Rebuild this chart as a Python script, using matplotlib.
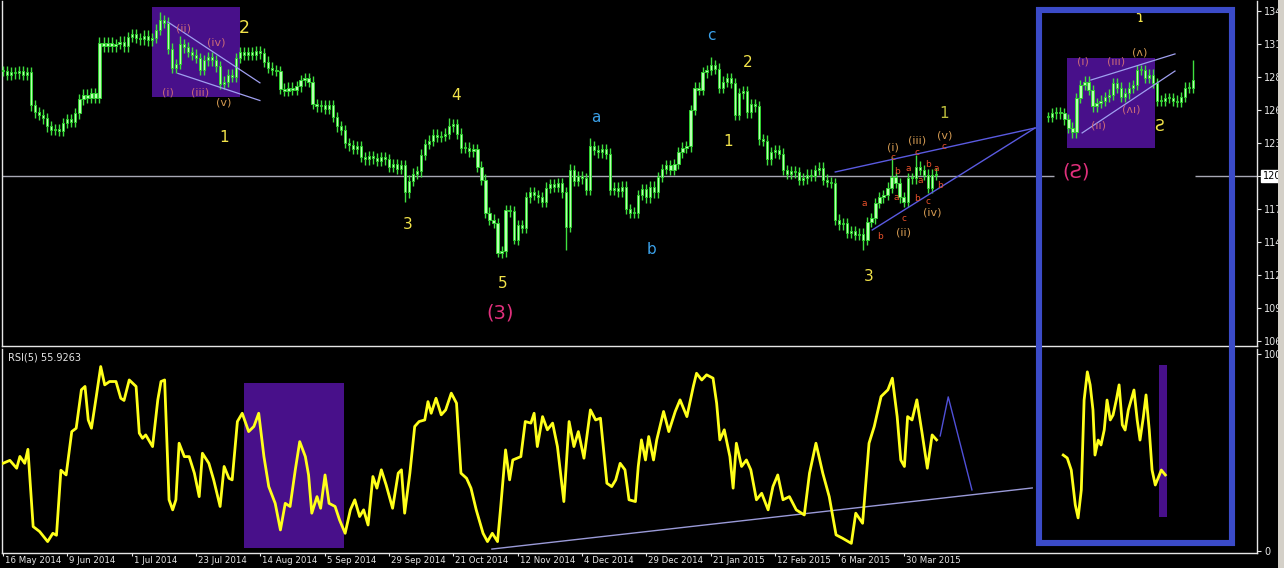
import matplotlib
matplotlib.use("Agg")
import matplotlib.pyplot as plt
from matplotlib.patches import Rectangle
from matplotlib.transforms import ScaledTranslation

# ---------------- data ----------------
closes = [128.9, 128.6, 128.8, 128.7, 128.9, 128.6, 128.8, 126.0, 125.4, 125.2,
          124.9, 124.2, 123.9, 124.0, 123.8, 124.5, 124.8, 124.6, 125.3, 126.5,
          126.9, 126.6, 127.0, 126.6, 131.3, 131.0, 131.3, 131.0, 131.2, 131.4,
          131.0, 131.8, 132.0, 131.7, 131.6, 131.9, 131.5, 131.7, 132.4, 133.2,
          133.0, 130.8, 129.2, 129.5, 131.2, 130.9, 130.5, 130.3, 130.0, 129.0,
          129.8, 130.1, 129.8, 129.3, 127.8, 128.0, 128.6, 128.4, 130.0, 130.5,
          130.3, 130.5, 130.3, 130.6, 130.4, 129.7, 129.2, 129.0, 128.9, 127.4,
          127.2, 127.5, 127.3, 127.6, 128.1, 128.3, 128.0, 126.1, 125.9, 126.0,
          125.7, 126.0, 125.0, 124.2, 123.9, 122.8, 122.6, 122.3, 122.5, 121.6,
          121.4, 121.7, 121.5, 121.3, 121.6, 121.4, 120.8, 121.0, 120.6, 120.9,
          118.6, 119.6, 120.2, 120.4, 121.8, 122.7, 123.0, 123.5, 123.3, 123.4,
          123.6, 124.2, 124.4, 123.6, 122.4, 122.4, 122.1, 122.3, 120.8, 119.7,
          116.9, 116.3, 116.0, 113.5, 113.6, 117.1, 117.0, 114.6, 115.8, 115.6,
          118.2, 118.6, 118.4, 118.2, 117.8, 119.0, 119.3, 119.1, 119.4, 118.6,
          115.7, 120.5, 119.6, 120.0, 119.8, 118.8, 122.5, 122.2, 122.0, 122.3,
          121.9, 118.8, 119.0, 118.7, 119.1, 117.2, 116.9, 116.9, 118.4, 118.9,
          118.2, 119.1, 118.6, 119.9, 120.6, 120.9, 120.5, 121.0, 122.0, 122.4,
          122.5, 125.6, 127.5, 127.3, 128.8, 129.0, 129.4, 129.1, 127.5, 128.0,
          128.3, 127.9, 125.2, 127.0, 127.2, 125.4, 126.1, 125.9, 123.1, 123.0,
          121.4, 122.0, 122.2, 121.9, 120.5, 120.2, 120.4, 120.3, 119.7, 119.8,
          120.1, 120.0, 120.5, 120.7, 119.7, 119.5, 119.4, 116.3, 115.9, 116.0,
          115.2, 115.3, 115.0, 115.1, 114.6, 116.1, 116.4, 117.7, 118.2, 118.4,
          119.0, 119.9, 119.4, 118.2, 117.8, 119.8, 119.8, 120.8, 120.5, 120.1,
          119.0, 120.1, 120.2]
wick_high = {39: 133.9, 44: 131.9, 111: 124.9, 146: 123.2, 141: 121.0, 176: 130.1, 221: 121.6, 227: 121.8}
wick_low = {100: 117.8, 123: 113.1, 127: 114.2, 140: 113.7, 214: 113.7}

# inset (pasted) chart in the blue frame
inset_start = 260
inset_closes = [125.0, 125.3, 125.4, 125.3, 124.8, 124.1, 123.7, 126.6, 127.7, 128.0,
                127.3, 125.9, 126.2, 126.4, 126.7, 126.9, 127.9, 127.5, 126.7, 127.0,
                127.5, 127.7, 129.0, 129.0, 128.3, 128.6, 127.9, 126.4, 126.4, 126.6,
                126.6, 126.4, 126.3, 126.7, 127.5, 127.5, 128.1]

rsi_points = [(0, 44.5), (1.7, 46), (3.4, 42), (4.2, 48), (5.4, 44.5), (6.2, 51.6), (7.5, 12.4),
              (9.1, 9.9), (11.1, 4.8), (12.4, 9), (13.3, 8), (14.4, 41), (15.7, 38.6), (17.1, 60.6),
              (18.2, 62.3), (19.5, 81.8), (20.4, 83.5), (21.2, 66.5), (22, 62.3), (23.2, 78.4),
              (24.3, 93.6), (25.3, 84.3), (26.5, 86), (28.1, 86), (29.3, 77.5), (30.1, 76.4),
              (31.4, 86.8), (33.1, 83.5), (33.9, 59.8), (34.7, 57.2), (35.5, 58.9), (37.2, 53),
              (38.5, 76.7), (39.3, 86), (40.2, 86.8), (41.3, 26), (42.2, 20.9), (43, 26),
              (43.8, 54.7), (45.1, 47.9), (46.3, 47.9), (47.6, 39.5), (48.8, 27.6), (49.6, 49.6),
              (51.2, 44.5), (52.4, 36.1), (54, 22.6), (55, 42.9), (56.2, 36.9), (57, 36.1),
              (58.3, 65.7), (59.5, 69.9), (61.1, 60.6), (62.4, 63.2), (63.6, 69.9), (64.9, 47.9),
              (66.1, 32.7), (67.7, 24.2), (69, 10.7), (70.2, 24.2), (71.4, 22.6), (72.7, 41.2),
              (73.8, 55.5), (75.2, 47.9), (76, 38.6), (76.8, 19.2), (78.1, 27.6), (79, 21.7),
              (80.1, 38.6), (81.1, 24.2), (82.6, 22.6), (83.7, 15.8), (85.1, 9), (86.4, 20.9),
              (87.5, 26), (88.7, 17.5), (89.7, 20.9), (90.8, 13.2), (92, 37.8), (93, 31.9),
              (94.1, 41.2), (95.3, 33.5), (96.9, 21.7), (98.3, 39.5), (99.1, 41.2), (99.9, 19.2),
              (101.2, 39.5), (102.4, 63.2), (103.5, 65.7), (104.9, 66.5), (105.7, 75.8),
              (106.5, 69.9), (107.7, 77.5), (109, 69.1), (110.1, 71.6), (111.5, 80.1), (112.8, 75),
              (113.9, 39.5), (115.3, 36.9), (116.4, 31.9), (117.7, 20.9), (119.4, 9), (120.5, 4.8),
              (121.7, 9), (123, 4.8), (123.8, 22.6), (125, 51.3), (126, 36.1), (126.8, 46.2),
              (128.8, 47.9), (129.9, 65.7), (131.3, 64.9), (132.1, 69.9), (132.9, 53), (134.2, 68.2),
              (135.4, 61.5), (136.7, 64.9), (137.9, 53), (139.5, 25.1), (140.8, 65.7), (142, 53),
              (143.1, 60.6), (144.5, 47.1), (146.1, 71.6), (147.4, 66.5), (148.6, 67.4),
              (150.2, 34.4), (151.4, 32.7), (152.4, 36.1), (153.5, 44.5), (154.7, 41.2), (155.7, 26),
              (157.3, 25.1), (158, 42.9), (158.8, 56.4), (159.8, 46.2), (160.6, 58.1), (161.8, 46.2),
              (162.6, 56.4), (164.3, 70.8), (165.6, 60.6), (167.2, 70.8), (168.4, 76.7),
              (170.1, 68.2), (171.7, 83.5), (172.5, 90.2), (173.8, 86.8), (175, 89.4), (176.6, 87.7),
              (177.5, 75), (178.3, 56.4), (179.4, 61.5), (180.8, 47.9), (181.6, 31.9), (182.4, 54.7),
              (183.7, 42.9), (184.9, 46.2), (186, 41.2), (187.4, 26), (188.7, 29.3), (190.3, 20.9),
              (191.5, 32.7), (192.7, 38.6), (194, 26), (195.6, 27.6), (197.3, 20.9), (199.3, 18.3),
              (200.6, 39.5), (202.2, 54.7), (203.9, 39.5), (205.5, 27.6), (207.2, 8.2), (208.8, 6.5),
              (211, 3.9), (212.1, 19.2), (213.8, 14.1), (215.4, 54.7), (216.7, 63.2), (218.4, 78.4),
              (220.1, 81.8), (221.2, 87.7), (222.4, 68.2), (223.3, 46.2), (224.2, 42.9), (225, 68.2),
              (226.1, 66.5), (227.3, 76.7), (228.6, 59.8), (229.9, 42), (231.1, 58.9), (232.2, 56.4)]

inset_rsi_points = [(263.7, 48.7), (264.7, 47.2), (265.7, 41.1), (266.7, 23.4), (267.4, 16.8),
                    (268.2, 31), (268.9, 76.6), (269.7, 90.9), (270.4, 84.3), (271.1, 71.6),
                    (271.6, 48.7), (272.4, 56.3), (273.1, 53.8), (273.9, 61.4), (274.6, 76.6),
                    (275.4, 66.5), (276.1, 69), (276.9, 76.6), (277.6, 84.3), (278.4, 64),
                    (279.1, 61.4), (279.9, 71.6), (280.6, 76.6), (281.3, 81.7), (282.1, 66.5),
                    (282.8, 56.3), (283.6, 67.5), (284.3, 79.2), (285.1, 61.4), (285.8, 41.1),
                    (286.6, 33.5), (287.3, 37), (288.1, 41.1), (289.1, 38.6)]

date_labels = ["16 May 2014", "9 Jun 2014", "1 Jul 2014", "23 Jul 2014", "14 Aug 2014",
               "5 Sep 2014", "29 Sep 2014", "21 Oct 2014", "12 Nov 2014", "4 Dec 2014",
               "29 Dec 2014", "21 Jan 2015", "12 Feb 2015", "6 Mar 2015", "30 Mar 2015"]
bars_per_label = 16
price_ticks = [106 + 2.8 * k for k in range(11)]
rsi_value = 55.9263

# ---------------- styling ----------------
W, H = 1284, 568
BG = "black"
FG = "#e6e6e6"
WICK = "#3fe03f"
BODY = "#b9ffb2"
EDGE = "#2fd02f"
YEL = "#f2e34a"
BLUE_LBL = "#3aa0e8"
MAG = "#e0307c"
ROSE = "#c86a78"
TAN = "#d39a52"
RED = "#e8502a"
PURPLE = "#48108a"

plt.rcParams["font.family"] = ["DejaVu Sans"]
fig = plt.figure(figsize=(W / 100, H / 100), dpi=100, facecolor=BG)


def frame(x0, y0, x1, y1):
    return [x0 / W, 1 - y1 / H, (x1 - x0) / W, (y1 - y0) / H]


ax = fig.add_axes(frame(2, 1, 1257, 346), facecolor=BG)
ax2 = fig.add_axes(frame(2, 349, 1257, 553), facecolor=BG, sharex=ax)
XL = (-0.25, 311.9)
ax.set_xlim(*XL)
ax.set_ylim(105.58, 134.84)
ax2.set_ylim(-1.0, 102.5)

for a in (ax, ax2):
    for s in a.spines.values():
        s.set_color(FG)
        s.set_linewidth(1)
    a.spines["top"].set_visible(False)
    a.yaxis.tick_right()
    a.tick_params(axis="y", colors=FG, labelsize=7, length=3, width=0.8, pad=2)

# ---------- candles ----------
def draw_candles(axis, start, cl, hi_map, lo_map):
    xs, opens = [], []
    prev = cl[0]
    for i, c in enumerate(cl):
        xs.append(start + i)
        opens.append(prev)
        prev = c
    for x, o, c in zip(xs, opens, cl):
        top, bot = max(o, c), min(o, c)
        hi = hi_map.get(x, top + 0.45)
        lo = lo_map.get(x, bot - 0.45)
        axis.vlines(x, lo, hi, color=WICK, lw=1.0, zorder=3)
        h = max(top - bot, 0.08)
        axis.bar(x, h, bottom=bot, width=0.55, color=BODY, edgecolor=EDGE, linewidth=0.7, zorder=4)


draw_candles(ax, 0, closes, wick_high, wick_low)
draw_candles(ax, inset_start, inset_closes, {inset_start + 36: 129.8}, {})

# horizontal 120 line
ax.hlines(120, XL[0], 261.5, color="#a8a8b4", lw=1, zorder=2)
ax.hlines(120, 296.5, XL[1], color="#a8a8b4", lw=1, zorder=2)

# purple boxes (price)
ax.add_patch(Rectangle((37.1, 126.7), 21.9, 7.63, facecolor=PURPLE, edgecolor="none", zorder=1))
ax.add_patch(Rectangle((264.7, 122.37), 21.9, 7.63, facecolor=PURPLE, edgecolor="none", zorder=1))

# trend lines
ax.plot([41.0, 63.9], [133.06, 127.9], color="#a0a0f0", lw=0.9, zorder=5)
ax.plot([43.5, 63.9], [128.7, 126.4], color="#a0a0f0", lw=0.9, zorder=5)
ax.plot([207, 256.7], [120.34, 124.07], color="#5a5ae0", lw=1.0, zorder=5)
ax.plot([216.2, 256.7], [115.42, 124.07], color="#5a5ae0", lw=1.0, zorder=5)
ax.plot([270.6, 291.5], [128.14, 130.35], color="#a0a0f0", lw=0.9, zorder=5)
ax.plot([268.4, 291.5], [123.65, 128.9], color="#a0a0f0", lw=0.9, zorder=5)

# ---------- labels ----------
def lab(x, y, s, color, size):
    ax.text(x, y, s, color=color, fontsize=size, ha="center", va="center", zorder=6)


big = [(55, 123.3, "1"), (100.7, 115.85, "3"), (112.7, 126.8, "4"),
       (124.4, 110.9, "5"), (185.3, 129.6, "2"), (180.3, 122.9, "1"), (215.2, 111.5, "3")]
for x, y, s in big:
    lab(x, y, s, YEL, 11)
lab(60, 132.55, "2", YEL, 12.5)
lab(234.1, 125.3, "1", "#bdbd3c", 11)
lab(123.6, 108.4, "(3)", MAG, 14)
lab(147.5, 125.0, "a", BLUE_LBL, 11)
lab(161.4, 113.8, "b", BLUE_LBL, 11)
lab(176.1, 131.9, "c", BLUE_LBL, 11)

for x, y, s in [(45, 132.5, "(ii)"), (53, 131.3, "(iv)"), (41, 127.1, "(i)"), (49, 127.1, "(iii)")]:
    lab(x, y, s, ROSE, 8)
lab(55, 126.2, "(v)", TAN, 8)

for x, y, s in [(221.4, 122.4, "(i)"), (224.1, 115.2, "(ii)"), (227.4, 123.0, "(iii)"),
                (231.1, 116.9, "(iv)"), (234.1, 123.4, "(v)")]:
    lab(x, y, s, TAN, 8)
for x, y, s in [(221.4, 121.6, "c"), (222.4, 120.4, "b"), (225.1, 120.6, "a"), (222.1, 118.2, "a"),
                (214.2, 117.7, "a"), (218.2, 114.9, "b"), (224.1, 116.4, "c"), (227.4, 118.1, "b"),
                (227.4, 122.0, "c"), (230.1, 121.0, "b"), (228.1, 119.6, "a"), (230.1, 117.8, "c"),
                (232.1, 120.6, "a"), (233.1, 119.15, "b"), (234.1, 122.5, "c")]:
    lab(x, y, s, RED, 6.5)

# inset (mirrored) labels
for x, y, s in [(268.7, 129.7, "(ı)"), (276.9, 129.7, "(ııı)"), (272.6, 124.3, "(ıı)"), (280.6, 125.6, "(ʌı)")]:
    lab(x, y, s, ROSE, 8)
lab(282.8, 130.5, "(ʌ)", TAN, 8)
lab(287.6, 124.2, "Ƨ", YEL, 11)
lab(282.6, 133.4, "ɿ", YEL, 11)
lab(266.9, 120.3, "(Ƨ)", MAG, 14)

# price axis ticks
ax.set_yticks(price_ticks)
ax.set_yticklabels([f"{round(v):d}" for v in price_ticks])
ax.annotate(f"{120}", xy=(1.0, 120), xycoords=("axes fraction", "data"), xytext=(4, 0),
            textcoords="offset points", va="center", ha="left", fontsize=7, color="black",
            bbox=dict(boxstyle="square,pad=0.12", fc="white", ec="white"), zorder=10,
            annotation_clip=False)
ax.tick_params(axis="x", bottom=False, labelbottom=False)

# ---------- RSI panel ----------
rx, ry = zip(*rsi_points)
ax2.plot(rx, ry, color="#ffff1a", lw=2.0, zorder=4, solid_joinstyle="round")
ix, iy = zip(*inset_rsi_points)
ax2.plot(ix, iy, color="#ffff1a", lw=2.0, zorder=4, solid_joinstyle="round")
ax2.add_patch(Rectangle((60, 1.5), 24.8, 83.8, facecolor=PURPLE, edgecolor="none", zorder=1))
ax2.add_patch(Rectangle((287.6, 17.3), 2.0, 77.1, facecolor=PURPLE, edgecolor="none", zorder=1))
ax2.plot([121.6, 256], [1.0, 32.0], color="#9a9ad8", lw=1.0, zorder=3)
ax2.plot([233.1, 235.1, 241.0], [58.4, 78.2, 31.0], color="#5050d8", lw=1.0, zorder=3)
ax2.text(0.005, 0.985, f"RSI(5) {rsi_value}", transform=ax2.transAxes, color=FG,
         fontsize=7, ha="left", va="top", zorder=6)
ax2.set_yticks([0, 100])
ax2.set_yticklabels(["0", "100"])

ax2.set_xticks([k * bars_per_label for k in range(len(date_labels))])
ax2.set_xticklabels(date_labels)
ax2.tick_params(axis="x", colors=FG, labelsize=6.2, length=2, width=0.8, pad=0.5, direction="out")
offset = ScaledTranslation(2 / 100, 0, fig.dpi_scale_trans)
for t in ax2.get_xticklabels():
    t.set_horizontalalignment("left")
    t.set_transform(t.get_transform() + offset)

# ---------- big blue frame over both panels ----------
fig.patches.append(Rectangle((1039 / W, 1 - 543 / H), (1232 - 1039) / W, (543 - 9.5) / H,
                             transform=fig.transFigure, fill=False, edgecolor="#3b4bc8",
                             linewidth=4.4, zorder=20))
# window edge strip at the right
fig.patches.append(Rectangle((1278 / W, 0), 6 / W, 1, transform=fig.transFigure,
                             facecolor="#d4d0c8", edgecolor="none", zorder=0))

fig.savefig("out.png", dpi=100, facecolor=BG)
